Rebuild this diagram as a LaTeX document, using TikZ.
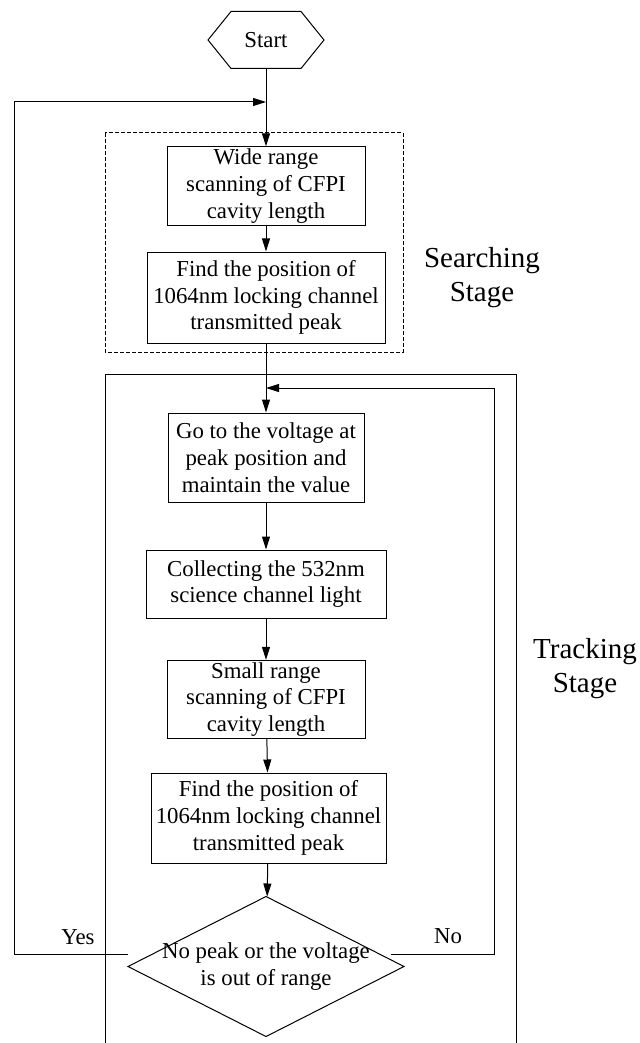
\documentclass[tikz,border=0pt]{standalone}
\usepackage{fontspec}
\setmainfont{Liberation Serif}
\usetikzlibrary{arrows.meta}

\begin{document}
\begin{tikzpicture}[x=0.5pt,y=-0.5pt,line width=0.5pt,
  every node/.style={font=\fontsize{11.4}{13.4}\selectfont},
  box/.style={draw,align=center,inner sep=1pt},
  stagelabel/.style={align=center,font=\fontsize{14.5}{17}\selectfont},
  flow/.style={-{Triangle[length=6.5pt,width=4pt]}}]
\useasboundingbox (0,0) rectangle (639,1043);

% start (hexagon)
\node[minimum width=57.5pt,minimum height=28pt,inner sep=0pt] (start) at (266,40) {Start};
\draw ([xshift=11.5pt]start.north west) -- ([xshift=-11.5pt]start.north east) -- (start.east)
  -- ([xshift=-11.5pt]start.south east) -- ([xshift=11.5pt]start.south west) -- (start.west) -- cycle;

% searching stage
\draw[dash pattern=on 2pt off 1pt] (105,133) rectangle (403,352);
\node[box,minimum width=99pt,minimum height=39pt] (wide) at (266,186) {Wide range\\scanning of CFPI\\cavity length};
\node[box,minimum width=119pt,minimum height=45.5pt] (find1) at (266,297.5) {Find the position of\\1064nm locking channel\\transmitted peak};
\node[stagelabel] (search) at (482,278) {Searching\\Stage};

% tracking stage
\draw (105,1043) -- (105,374) -- (516,374) -- (516,1043);
\node[box,minimum width=98pt,minimum height=44.5pt] (goto) at (266,457.5) {Go to the voltage at\\peak position and\\maintain the value};
\node[box,minimum width=120pt,minimum height=34pt] (collect) at (266,584) {Collecting the 532nm\\science channel light};
\node[box,minimum width=99pt,minimum height=38.5pt] (small) at (266,699.5) {Small range\\scanning of CFPI\\cavity length};
\node[box,minimum width=117.5pt,minimum height=45pt] (find2) at (268.5,818) {Find the position of\\1064nm locking channel\\transmitted peak};
\node[stagelabel] (track) at (585,669) {Tracking\\Stage};

% decision (diamond)
\node[minimum width=137.5pt,minimum height=69.5pt,inner sep=0pt,align=center] (chk) at (266,966.5) {No peak or the voltage\\is out of range};
\draw (chk.north) -- (chk.east) -- (chk.south) -- (chk.west) -- cycle;

% joints of the two loops
\coordinate (loopin) at (266,102);
\coordinate (yesturn) at (14,102);
\coordinate (noin) at (266,388);
\coordinate (noturn) at (494,388);

% arrows
\draw[flow] (start) -- (wide);
\draw[flow] (wide) -- (find1);
\draw[flow] (find1) -- (goto);
\draw[flow] (goto) -- (collect);
\draw[flow] (collect) -- (small);
\draw[flow] (small) -- (find2);
\draw[flow] (find2) -- (chk);
\draw[flow] ([yshift=6pt]chk.west) -| (yesturn) -- (loopin);
\draw[flow] ([xshift=-6.5pt,yshift=6pt]chk.east) -| (noturn) -- (noin);

\node (yes) at (78,937) {Yes};
\node (no) at (448,936) {No};
\end{tikzpicture}
\end{document}
